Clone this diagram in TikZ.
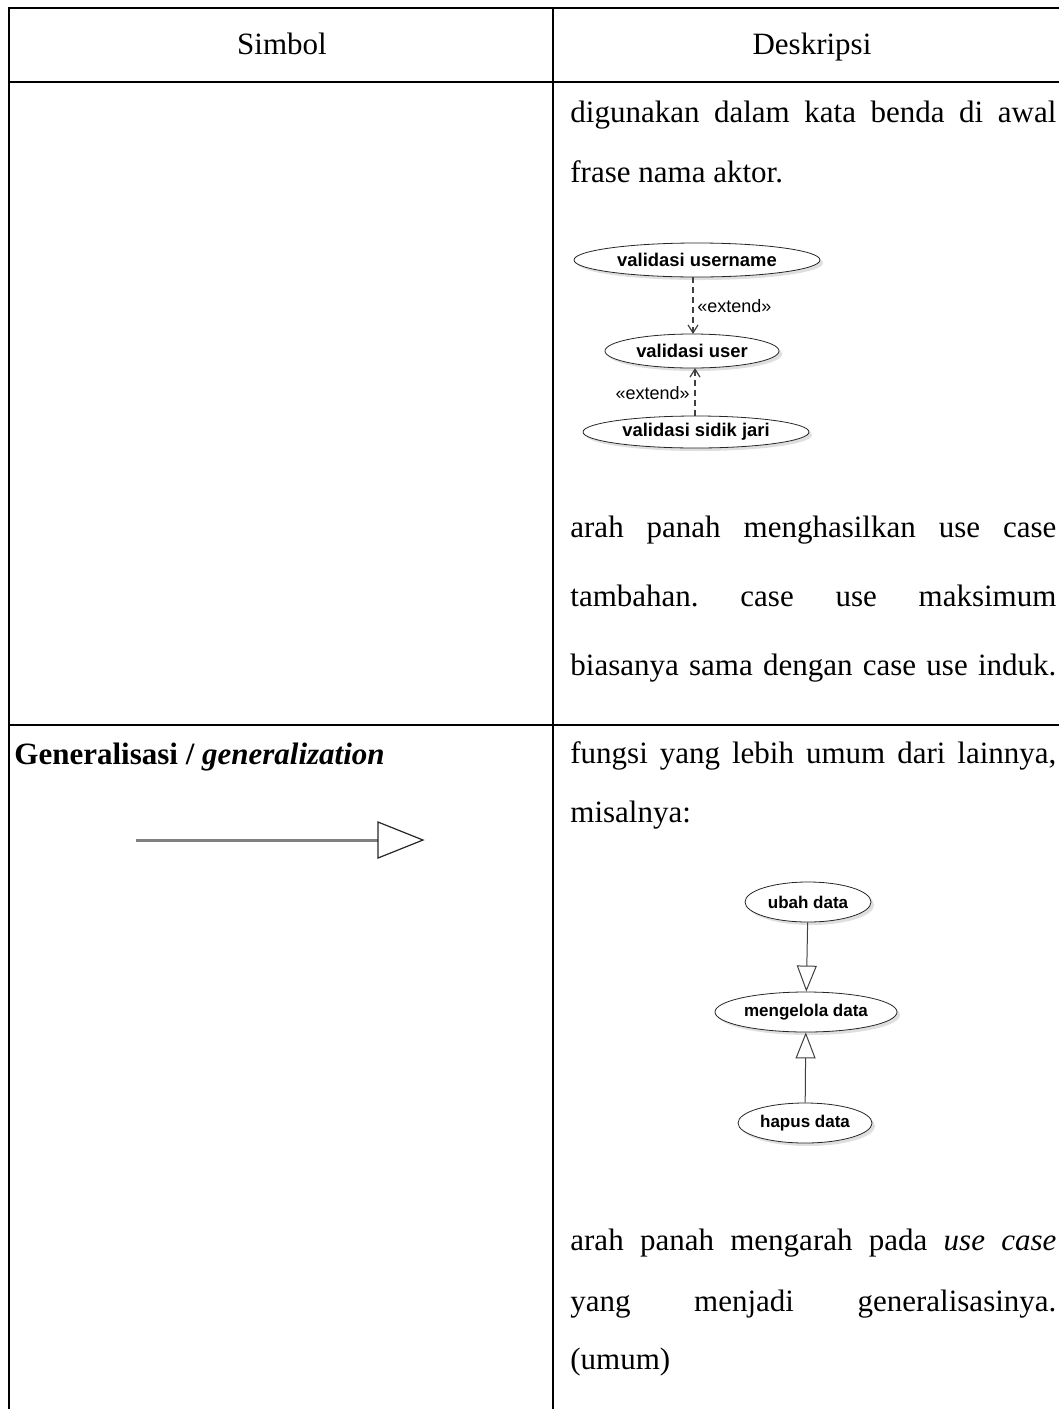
\documentclass[tikz,border=0pt]{standalone}
\usepackage{fontspec}
\setmainfont{Liberation Serif}
\newfontfamily\ucfont{Liberation Sans}
\usetikzlibrary{arrows.meta,shadows,shapes.geometric}
\frenchspacing
\begin{document}
\begin{tikzpicture}[x=0.5pt,y=-0.5pt,
  tbl/.style={line width=1pt,black},
  txt/.style={anchor=base west,inner sep=0pt,font=\fontsize{15.5}{18}\selectfont},
  hdr/.style={anchor=base,inner sep=0pt,font=\fontsize{15.5}{18}\selectfont},
  uc/.style={ellipse,draw=black!85,line width=0.4pt,fill=white,inner sep=0pt,
     font=\ucfont\bfseries\fontsize{8.5}{10}\selectfont,
     drop shadow={shadow xshift=1.5pt,shadow yshift=-1.5pt,fill=black!25,opacity=0.5}},
  ucb/.style={uc,font=\ucfont\bfseries\fontsize{9.2}{11}\selectfont},
  lbl/.style={inner sep=0pt,font=\ucfont\fontsize{9}{11}\selectfont},
  ext/.style={densely dashed,draw=black!75,line width=0.6pt,-{Straight Barb[length=4pt,width=5pt]}},
  gen/.style={draw=black!75,line width=0.5pt,-{Triangle[open,length=13pt,width=10pt,fill=white]}}
]
\useasboundingbox (0,0) rectangle (1059,1409);
% table lines
\draw[tbl] (9,7.5) -- (1059,7.5);
\draw[tbl] (9,82) -- (1059,82);
\draw[tbl] (9,725) -- (1059,725);
\draw[tbl] (9,7) -- (9,1409);
\draw[tbl] (553,7) -- (553,1409);
% header
\node[hdr] (h1) at (282,54) {Simbol};
\node[hdr] (h2) at (812,54) {Deskripsi};
% row 1 description
\node[txt] (t1) at (570,122) {\makebox[243pt][s]{digunakan dalam kata benda di awal}};
\node[txt] (t2) at (570,182) {frase nama aktor.};
% extend diagram
\node[ucb,minimum width=123pt,minimum height=17pt] (u1) at (697,260) {validasi username};
\node[ucb,minimum width=87pt,minimum height=17pt] (u2) at (692,351) {validasi user};
\node[ucb,minimum width=113pt,minimum height=16pt] (u3) at (696,432) {validasi sidik jari};
\draw[ext] (u1.south -| 693,0) -- (693,334);
\draw[ext] (u3.north -| 695,0) -- (695,368);
\node[lbl,anchor=west] (l1) at (697,306) {«extend»};
\node[lbl,anchor=east] (l2) at (690,393) {«extend»};
\node[txt] (t3) at (570,537) {\makebox[243pt][s]{arah panah menghasilkan use case}};
\node[txt] (t4) at (570,606) {\makebox[243pt][s]{tambahan. case use maksimum}};
\node[txt] (t5) at (570,675) {\makebox[243pt][s]{biasanya sama dengan case use induk.}};
% row 2 left
\node[txt,font=\fontsize{15.5}{18}\selectfont\bfseries] (g1) at (14,764) {Generalisasi / \itshape generalization};
\coordinate (ga) at (136,840);
\coordinate (gb) at (423,840);
\draw[draw=black!50,line width=1.5pt] (ga) -- (378,840);
\draw[draw=black!85,line width=0.6pt,fill=white] (378,822) -- (gb) -- (378,858) -- cycle;
% row 2 right
\node[txt] (t6) at (570,763) {\makebox[243pt][s]{fungsi yang lebih umum dari lainnya,}};
\node[txt] (t7) at (570,822) {misalnya:};
\node[uc,minimum width=63pt,minimum height=20pt] (v1) at (808,902) {ubah data};
\node[uc,minimum width=91pt,minimum height=20pt] (v2) at (806,1012) {mengelola data};
\node[uc,minimum width=67pt,minimum height=20pt] (v3) at (805,1123) {hapus data};
\draw[gen] (v1) -- (v2);
\draw[gen] (v3) -- (v2);
\node[txt] (t8) at (570,1250) {\makebox[243pt][s]{arah panah mengarah pada \textit{use case}}};
\node[txt] (t9) at (570,1311) {\makebox[243pt][s]{yang menjadi generalisasinya.}};
\node[txt] (t10) at (570,1369) {(umum)};
\end{tikzpicture}
\end{document}
